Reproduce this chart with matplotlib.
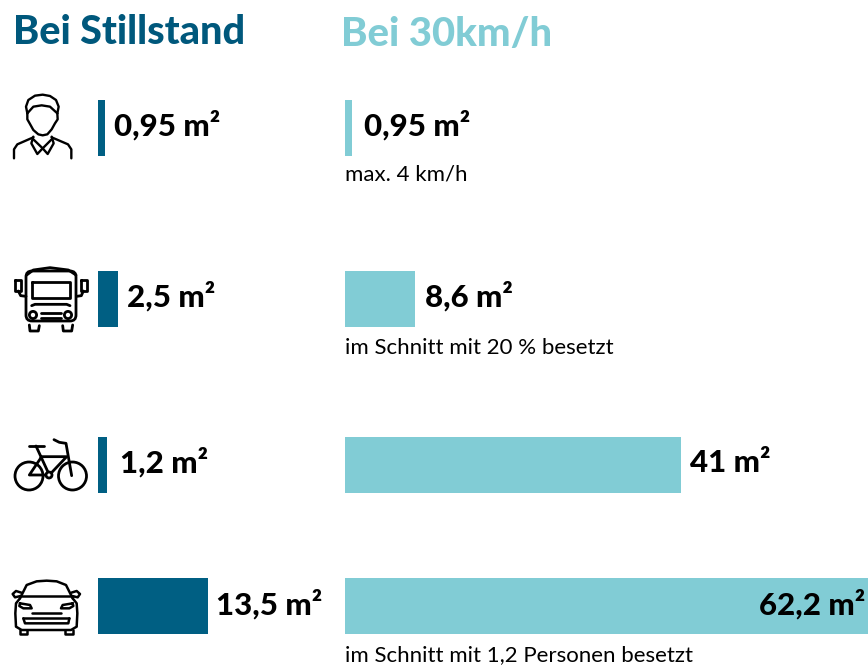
import matplotlib
matplotlib.use("Agg")
import matplotlib.pyplot as plt
from matplotlib.patches import Circle, FancyBboxPatch

# values
rows = ["Fussgaenger", "Bus", "Fahrrad", "Auto"]
stand_values = [0.95, 2.5, 1.2, 13.5]
stand_labels = ["0,95 m²", "2,5 m²", "1,2 m²", "13,5 m²"]
# last bar runs off the right edge of the picture, length as seen
speed_values = [0.95, 8.6, 41, 64]
speed_labels = ["0,95 m²", "8,6 m²", "41 m²", "62,2 m²"]
notes = ["max. 4 km/h", "im Schnitt mit 20 % besetzt", "", "im Schnitt mit 1,2 Personen besetzt"]

DARK = "#005f83"
LIGHT = "#81ccd5"
FONT = "Lato"
SCALE = 8.2  # pixels per m2

row_y = [127.5, 298.5, 464.5, 606]
note_y = [174.5, 348, 0, 655.5]
row_h = 56
x_stand = 97.5
x_speed = 344.5
stand_gap = [8.5, 9, 12.5, 8]
speed_gap = [11.5, 10, 9, 0]


def polys(ax, ox, oy, lines, lw=2.0):
    # icon lines come in zoomed crop coordinates (3x)
    for line in lines:
        xs = [ox + p[0] / 3 for p in line]
        ys = [oy + p[1] / 3 for p in line]
        ax.plot(xs, ys, color="black", lw=lw, solid_capstyle="round", solid_joinstyle="round")


def person(ax):
    ox, oy = 0, 80
    polys(ax, ox, oy, [
        [(82, 100), (78, 80), (85, 60), (105, 47), (128, 44), (150, 48), (168, 60), (176, 80), (172, 100)],
        [(82, 100), (100, 80), (125, 76), (150, 80), (172, 100)],
        [(82, 100), (82, 118), (90, 132), (100, 150), (115, 163), (128, 166), (142, 163), (155, 148), (165, 130), (173, 118), (172, 100)],
        [(42, 235), (42, 208), (52, 193), (100, 172)],
        [(214, 235), (214, 208), (204, 193), (155, 172)],
        [(100, 170), (94, 190), (112, 222), (128, 205), (143, 222), (161, 190), (155, 170)],
        [(100, 178), (128, 205), (155, 178)],
    ], lw=1.7)


def bus(ax):
    ox, oy = 0, 255
    ax.add_patch(FancyBboxPatch((26, 271), 50, 50, boxstyle="round,pad=0,rounding_size=6",
                                fc="none", ec="black", lw=2, zorder=3))
    polys(ax, ox, oy, [
        [(80, 60), (100, 45), (150, 38), (205, 45), (228, 60)],
        [(95, 82), (210, 82), (210, 130), (95, 130), (95, 82)],
        [(95, 152), (105, 148), (200, 148), (210, 152)],
        [(122, 174), (182, 174)],
        [(122, 188), (182, 188)],
        [(88, 210), (90, 228), (115, 228), (118, 212)],
        [(188, 212), (190, 228), (215, 228), (218, 210)],
        [(44, 75), (62, 75), (62, 108), (44, 108), (44, 75)],
        [(55, 108), (62, 122), (78, 124)],
        [(242, 75), (260, 75), (260, 108), (242, 108), (242, 75)],
        [(250, 108), (244, 122), (230, 124)],
    ])
    ax.add_patch(Circle((33, 315), 3.6, fc="none", ec="black", lw=2))
    ax.add_patch(Circle((68, 315), 3.6, fc="none", ec="black", lw=2))


def bike(ax):
    ox, oy = 0, 425
    ax.add_patch(Circle((29, 476), 14, fc="none", ec="black", lw=2))
    ax.add_patch(Circle((72.5, 476), 14, fc="none", ec="black", lw=2))
    ax.add_patch(Circle((49, 475), 3, fc="white", ec="black", lw=2, zorder=3))
    polys(ax, ox, oy, [
        [(88, 63), (132, 63)],
        [(108, 63), (148, 150), (88, 150), (125, 95), (200, 95), (148, 150)],
        [(215, 152), (198, 55), (178, 52), (162, 44)],
    ])


def car(ax):
    ox, oy = 0, 570
    polys(ax, ox, oy, [
        [(60, 85), (80, 45), (110, 34), (140, 32), (170, 34), (198, 45), (218, 85)],
        [(60, 85), (48, 100), (46, 130), (48, 170), (65, 180), (213, 180), (230, 170), (232, 130), (230, 100), (218, 85)],
        [(60, 78), (218, 78)],
        [(62, 78), (45, 82), (38, 72), (48, 63), (64, 68)],
        [(216, 78), (233, 82), (240, 72), (230, 63), (214, 68)],
        [(60, 100), (90, 105), (95, 115), (70, 115), (58, 108), (60, 100)],
        [(218, 100), (188, 105), (183, 115), (208, 115), (220, 108), (218, 100)],
        [(95, 128), (183, 128)],
        [(70, 145), (208, 145)],
        [(70, 145), (75, 160), (205, 160), (208, 145)],
        [(60, 180), (60, 193), (82, 193), (82, 180)],
        [(196, 180), (196, 193), (218, 193), (218, 180)],
    ], lw=1.8)


fig = plt.figure(figsize=(8.68, 6.66), dpi=100)
ax = fig.add_axes([0, 0, 1, 1])
ax.set_xlim(0, 868)
ax.set_ylim(666, 0)
ax.axis("off")

ax.text(13, 32, "Bei Stillstand", color="#00587c", fontsize=28.5, fontweight="black",
        family=FONT, va="center")
ax.text(341, 35, "Bei 30km/h", color=LIGHT, fontsize=28.8, fontweight="black",
        family=FONT, va="center")

stand_w = [v * SCALE for v in stand_values]
speed_w = [v * SCALE for v in speed_values]
ax.barh(row_y, stand_w, height=row_h, left=x_stand, color=DARK)
ax.barh(row_y, speed_w, height=row_h, left=x_speed, color=LIGHT)

for i in range(len(rows)):
    ax.text(x_stand + stand_w[i] + stand_gap[i], row_y[i] - 2, stand_labels[i], fontsize=22.5,
            fontweight="black", family=FONT, va="center", color="black")
    if i == 3:
        ax.text(865, row_y[i] - 2, speed_labels[i], fontsize=22.5, fontweight="black",
                family=FONT, va="center", ha="right", color="black")
    else:
        ax.text(x_speed + speed_w[i] + speed_gap[i], row_y[i] - 2, speed_labels[i], fontsize=22.5,
                fontweight="black", family=FONT, va="center", color="black")
    if notes[i]:
        ax.text(345, note_y[i], notes[i], fontsize=16, family=FONT, va="center", color="black")

person(ax)
bus(ax)
bike(ax)
car(ax)

fig.savefig("out.png", dpi=100)
